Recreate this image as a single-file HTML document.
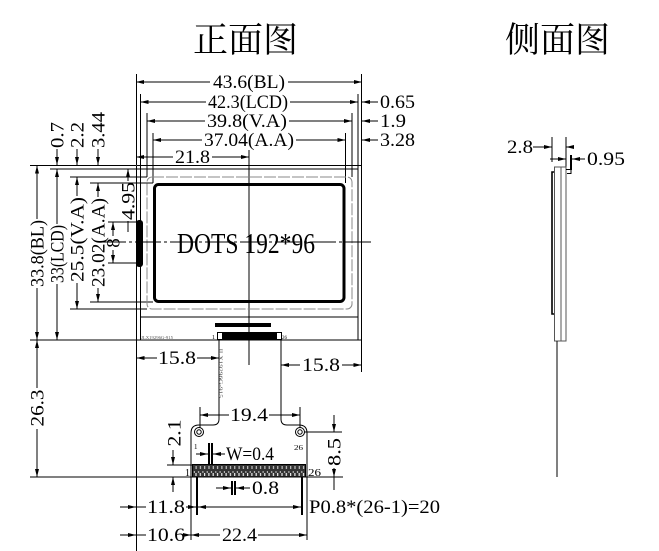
<!DOCTYPE html>
<html><head><meta charset="utf-8"><style>
html,body{margin:0;padding:0;background:#fff;}
svg{display:block;}
text{font-family:"Liberation Serif","Noto Serif CJK SC",serif;fill:#000;}
.t{font-size:19px;}
.r{font-size:19px;text-anchor:middle;}
</style></head><body>
<svg width="659" height="551" viewBox="0 0 659 551" xmlns="http://www.w3.org/2000/svg">
<defs>
<marker id="a" viewBox="0 0 8 4" refX="8" refY="2" markerWidth="8" markerHeight="4" markerUnits="userSpaceOnUse" orient="auto"><path d="M0,0L8,2L0,4z" fill="#000"/></marker>
<pattern id="pins" x="193" y="465" width="4.3" height="12" patternUnits="userSpaceOnUse">
<rect width="4.3" height="12" fill="#333"/>
<rect x="2.6" y="1" width="1" height="3" fill="#ddd"/>
<rect x="0.8" y="6" width="1" height="2" fill="#ccc"/>
<rect x="2.4" y="8" width="1.2" height="3" fill="#eee"/>
</pattern>
</defs>
<rect width="659" height="551" fill="#fff"/>

<!-- titles -->
<text x="193" y="52" font-size="35" textLength="105" lengthAdjust="spacingAndGlyphs" style="font-family:'Noto Serif CJK SC','Noto Sans CJK SC',serif">正面图</text>
<text x="505" y="52" font-size="35" textLength="105" lengthAdjust="spacingAndGlyphs" style="font-family:'Noto Serif CJK SC','Noto Sans CJK SC',serif">侧面图</text>

<g stroke="#000" stroke-width="1" fill="none">
<!-- top dimension lines -->
<path d="M210,82H136" marker-end="url(#a)"/><path d="M288,82H362" marker-end="url(#a)"/>
<path d="M206,102H140.5" marker-end="url(#a)"/><path d="M290,102H358" marker-end="url(#a)"/>
<path d="M205,121H147" marker-end="url(#a)"/><path d="M289,121H352" marker-end="url(#a)"/>
<path d="M202,140H153" marker-end="url(#a)"/><path d="M296,140H345.5" marker-end="url(#a)"/>
<path d="M173,157H136" marker-end="url(#a)"/><path d="M212,157H249" marker-end="url(#a)"/>
<path d="M378,102H362" marker-end="url(#a)"/>
<path d="M378,121H362" marker-end="url(#a)"/>
<path d="M378,140H362" marker-end="url(#a)"/>

<!-- vertical ext lines top -->
<path d="M136.5,74V165M361.5,74V165M140.5,94V169M358,94V169M147,113V177M352,113V177M153,133V183M345.5,133V183"/>
<path d="M249,150V365"/>

<!-- left horizontal ext lines -->
<path d="M30,165.5H136M50,169H140.5M70,177H147M90,183H153M70,309H147M90,302H153M30,340H362M30,477H343"/>
<path d="M108,222H138M108,263H138"/>

<!-- left vertical dims -->
<path d="M37,219V165.5" marker-end="url(#a)"/><path d="M37,288V340" marker-end="url(#a)"/>
<path d="M37,388V340" marker-end="url(#a)"/><path d="M37,429V477" marker-end="url(#a)"/>
<path d="M57,224V169" marker-end="url(#a)"/><path d="M57,284V340" marker-end="url(#a)"/>
<path d="M57,149V165" marker-end="url(#a)"/>
<path d="M77,196V177" marker-end="url(#a)"/><path d="M77,283V309" marker-end="url(#a)"/>
<path d="M77,149V165" marker-end="url(#a)"/>
<path d="M98,197V183" marker-end="url(#a)"/><path d="M98,288V302" marker-end="url(#a)"/>
<path d="M98,149V165" marker-end="url(#a)"/>
<path d="M128,181V169" marker-end="url(#a)"/><path d="M128,221V232"/>
<path d="M113,236V222" marker-end="url(#a)"/><path d="M113,250V263" marker-end="url(#a)"/>

<!-- module -->
<path d="M136.5,165.5H361.5V340M136.5,165.5V340"/>
<path d="M140.5,169H358V340M140.5,169V340"/>
<path d="M140.5,317H358"/>
<rect x="147" y="177" width="205" height="132" rx="5" stroke="#888" stroke-dasharray="12 2"/>
<rect x="154.5" y="184.5" width="189.5" height="117" rx="4" stroke-width="3"/>
<path d="M100,242H372" stroke-dasharray="26 3 3 3"/>

<!-- FPC -->
<path d="M219,340V419Q219,425 213,425H199Q191,425 191,433V540"/>
<path d="M281,340V419Q281,425 287,425H299Q307,425 307,433V540"/>
<circle cx="199" cy="432" r="4.5"/><circle cx="199" cy="432" r="2.2"/>
<circle cx="300" cy="432" r="4.5"/><circle cx="300" cy="432" r="2.2"/>
<rect x="217.5" y="332.5" width="64" height="7"/>

<!-- 15.8 / 19.4 -->
<path d="M157,358H136.5" marker-end="url(#a)"/><path d="M197,358H219" marker-end="url(#a)"/>
<path d="M300,365H281" marker-end="url(#a)"/><path d="M342,365H361.5" marker-end="url(#a)"/>
<path d="M361.5,340V372M136.5,340V551"/>
<path d="M229,415H200" marker-end="url(#a)"/><path d="M269,415H300" marker-end="url(#a)"/>
<path d="M200,407V428M300,407V428"/>

<!-- 2.1 -->
<path d="M173,450V465" marker-end="url(#a)"/><path d="M173,492V477" marker-end="url(#a)"/>
<path d="M167,465H193"/>
<!-- W=0.4 -->
<path d="M209,443V465M212,443V465" stroke-width="2"/>
<path d="M196,454H208" marker-end="url(#a)"/><path d="M225,454H213" marker-end="url(#a)"/>
<!-- contacts -->
<rect x="192.5" y="464.5" width="113" height="12.5" fill="url(#pins)"/>
<!-- 0.8 -->
<path d="M232,481V495M235,481V495" stroke-width="2"/>
<path d="M216,488H231" marker-end="url(#a)"/><path d="M250,488H236" marker-end="url(#a)"/>
<!-- P0.8 -->
<path d="M197,477V515M302,477V515" stroke-width="2"/>
<path d="M249,507H198" marker-end="url(#a)"/><path d="M249,507H301" marker-end="url(#a)"/>
<!-- 11.8 / 10.6 / 22.4 -->
<path d="M120,507H136" marker-end="url(#a)"/><path d="M136,507H146"/><path d="M186,507H196" marker-end="url(#a)"/>
<path d="M120,535H136" marker-end="url(#a)"/><path d="M136,535H146"/><path d="M186,535H191" marker-end="url(#a)"/>
<path d="M220,535H191" marker-end="url(#a)"/><path d="M258,535H307" marker-end="url(#a)"/>
<!-- 8.5 -->
<path d="M334,415V432" marker-end="url(#a)"/><path d="M334,468V477" marker-end="url(#a)"/><path d="M334,477V490"/>
<path d="M304,432H342"/>

<!-- side view -->
<path d="M533,147H552" marker-end="url(#a)"/>
<path d="M573,147H566" marker-end="url(#a)"/>
<path d="M552,137V162M566,137V167"/>
<path d="M550,159H566" marker-end="url(#a)"/>
<path d="M585,159H572" marker-end="url(#a)"/>
<path d="M571,155V170" stroke-width="2"/>
<rect x="554.5" y="167" width="11.5" height="174" stroke="#555"/>
<path d="M561,167V341" stroke="#555"/>
<path d="M554,172H552V314H554" stroke-width="1.6"/>
<path d="M566,169.5H571V173.5H567"/>
<path d="M557,341V477"/>
</g>

<!-- filled shapes -->
<rect x="136" y="220" width="7" height="47" rx="3" fill="#000"/>
<rect x="215" y="323" width="56" height="4" fill="#000"/>
<rect x="222" y="333" width="55" height="7" fill="#000"/>

<!-- texts -->
<text class="t" x="213" y="88" textLength="72" lengthAdjust="spacingAndGlyphs">43.6(BL)</text>
<text class="t" x="208" y="108" textLength="80" lengthAdjust="spacingAndGlyphs">42.3(LCD)</text>
<text class="t" x="207" y="127" textLength="80" lengthAdjust="spacingAndGlyphs">39.8(V.A)</text>
<text class="t" x="204" y="146" textLength="90" lengthAdjust="spacingAndGlyphs">37.04(A.A)</text>
<text class="t" x="175" y="163" textLength="35" lengthAdjust="spacingAndGlyphs">21.8</text>
<text class="t" x="380" y="108" textLength="35" lengthAdjust="spacingAndGlyphs">0.65</text>
<text class="t" x="380" y="127" textLength="26" lengthAdjust="spacingAndGlyphs">1.9</text>
<text class="t" x="380" y="146" textLength="35" lengthAdjust="spacingAndGlyphs">3.28</text>

<text class="r" transform="translate(37,253.5) rotate(-90)" dy="0.35em" textLength="67" lengthAdjust="spacingAndGlyphs">33.8(BL)</text>
<text class="r" transform="translate(57,254) rotate(-90)" dy="0.35em" textLength="58" lengthAdjust="spacingAndGlyphs">33(LCD)</text>
<text class="r" transform="translate(77,239.5) rotate(-90)" dy="0.35em" textLength="85" lengthAdjust="spacingAndGlyphs">25.5(V.A)</text>
<text class="r" transform="translate(98,242.5) rotate(-90)" dy="0.35em" textLength="89" lengthAdjust="spacingAndGlyphs">23.02(A.A)</text>
<text class="r" transform="translate(37,408) rotate(-90)" dy="0.35em" textLength="37" lengthAdjust="spacingAndGlyphs">26.3</text>
<text class="r" transform="translate(57,135) rotate(-90)" dy="0.35em" textLength="26" lengthAdjust="spacingAndGlyphs">0.7</text>
<text class="r" transform="translate(77,135) rotate(-90)" dy="0.35em" textLength="26" lengthAdjust="spacingAndGlyphs">2.2</text>
<text class="r" transform="translate(98,130) rotate(-90)" dy="0.35em" textLength="36" lengthAdjust="spacingAndGlyphs">3.44</text>
<text class="r" transform="translate(128,201) rotate(-90)" dy="0.35em" textLength="38" lengthAdjust="spacingAndGlyphs">4.95</text>
<text class="r" transform="translate(113,243) rotate(-90)" dy="0.35em">8</text>
<text class="r" transform="translate(174,433) rotate(-90)" dy="0.35em" textLength="27" lengthAdjust="spacingAndGlyphs">2.1</text>
<text class="r" transform="translate(334,452) rotate(-90)" dy="0.35em" textLength="28" lengthAdjust="spacingAndGlyphs">8.5</text>

<text x="177" y="253" font-size="28" textLength="138" lengthAdjust="spacingAndGlyphs">DOTS 192*96</text>

<text x="141" y="339" font-size="4.5" textLength="32" lengthAdjust="spacingAndGlyphs" style="fill:#555">JLX19296G-915</text>
<text x="212" y="339" font-size="6">1</text>
<text x="282" y="339" font-size="5">26</text>
<text transform="translate(219,348) rotate(90)" font-size="5" textLength="50" lengthAdjust="spacingAndGlyphs" style="fill:#444">JLX19296G-915</text>

<text class="t" x="158" y="364" textLength="38" lengthAdjust="spacingAndGlyphs">15.8</text>
<text class="t" x="302" y="371" textLength="38" lengthAdjust="spacingAndGlyphs">15.8</text>
<text class="t" x="230" y="421" textLength="38" lengthAdjust="spacingAndGlyphs">19.4</text>

<text x="194" y="449" font-size="7">1</text>
<text x="294" y="450" font-size="7" textLength="9" lengthAdjust="spacingAndGlyphs">26</text>
<text class="t" x="226" y="460" textLength="48" lengthAdjust="spacingAndGlyphs">W=0.4</text>
<text x="185" y="476" font-size="10">1</text>
<text x="308" y="476" font-size="10" textLength="13" lengthAdjust="spacingAndGlyphs">26</text>
<text class="t" x="252" y="494" textLength="27" lengthAdjust="spacingAndGlyphs">0.8</text>
<text class="t" x="309" y="513" textLength="131" lengthAdjust="spacingAndGlyphs">P0.8*(26-1)=20</text>
<text class="t" x="147" y="513" textLength="38" lengthAdjust="spacingAndGlyphs">11.8</text>
<text class="t" x="147" y="541" textLength="38" lengthAdjust="spacingAndGlyphs">10.6</text>
<text class="t" x="222" y="541" textLength="35" lengthAdjust="spacingAndGlyphs">22.4</text>

<text class="t" x="507" y="153" textLength="26" lengthAdjust="spacingAndGlyphs">2.8</text>
<text class="t" x="587" y="165" textLength="38" lengthAdjust="spacingAndGlyphs">0.95</text>
</svg>
</body></html>
